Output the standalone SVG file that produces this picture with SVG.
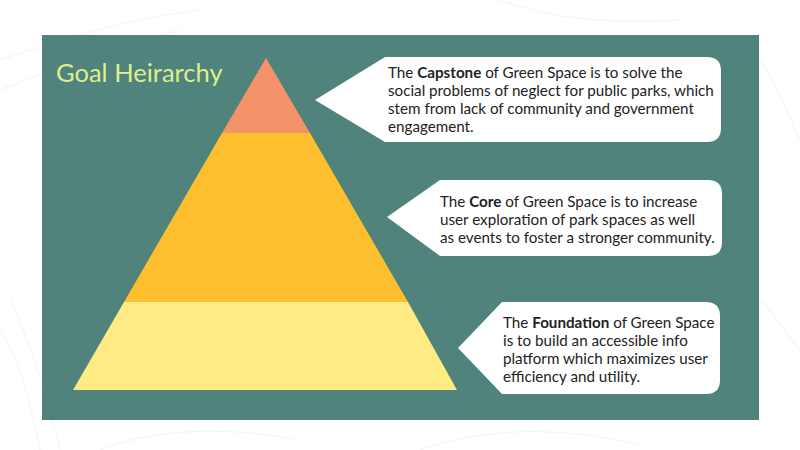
<svg xmlns="http://www.w3.org/2000/svg" width="800" height="450" viewBox="0 0 800 450">
  <style>
    .panel { fill: #4F837B; }
    .bubble { fill: #FFFFFF; }
    .body { font-family: Lato, "Open Sans", sans-serif; font-size: 15.2px; fill: #222222; }
    .body tspan.b { font-weight: bold; }
    .title { font-family: Lato, "Open Sans", sans-serif; font-size: 25.5px; fill: #DDF08C; }
    .swirl { fill: none; stroke: #F5F5F5; stroke-width: 1.2; }
  </style>

  <!-- page background with faint swirl lines -->
  <rect x="0" y="0" width="800" height="450" fill="#FFFFFF"/>
  <g class="swirl">
    <path d="M0,60 C60,40 120,20 200,10"/>
    <path d="M0,90 C50,70 100,50 180,30"/>
    <path d="M0,330 C20,360 30,400 40,450"/>
    <path d="M10,300 C30,340 45,390 60,450"/>
    <path d="M760,60 C780,90 790,120 800,140"/>
    <path d="M760,300 C780,320 790,340 800,350"/>
    <path d="M100,450 C150,430 220,425 300,440"/>
    <path d="M420,450 C480,428 560,425 640,445"/>
    <path d="M500,0 C540,15 600,25 680,20"/>
  </g>

  <!-- green slide panel -->
  <rect class="panel" x="42" y="35" width="717" height="385"/>

  <g id="title">
    <text class="title" x="56" y="82">Goal Heirarchy</text>
  </g>

  <!-- pyramid tiers -->
  <g id="tier-capstone">
    <polygon points="266,58 310,133 222,133" fill="#F4936A"/>
  </g>
  <g id="tier-core">
    <polygon points="222,133 310,133 408,302 124,302" fill="#FDBF2D"/>
  </g>
  <g id="tier-foundation">
    <polygon points="124,302 408,302 457,390 73,390" fill="#FEEB83"/>
  </g>

  <!-- callouts -->
  <g id="callout-capstone">
    <path class="bubble" d="M385,57 H707 Q721,57 721,71 V128 Q721,142 707,142 H385 L315,100 Z"/>
    <text class="body" x="388" y="78">The <tspan class="b">Capstone</tspan> of Green Space is to solve the</text>
    <text class="body" x="388" y="96">social problems of neglect for public parks, which</text>
    <text class="body" x="388" y="114">stem from lack of community and government</text>
    <text class="body" x="388" y="132">engagement.</text>
  </g>

  <g id="callout-core">
    <path class="bubble" d="M440,180 H708 Q722,180 722,194 V242 Q722,256 708,256 H440 L387,217 Z"/>
    <text class="body" x="440" y="207">The <tspan class="b">Core</tspan> of Green Space is to increase</text>
    <text class="body" x="440" y="225">user exploration of park spaces as well</text>
    <text class="body" x="440" y="243">as events to foster a stronger community.</text>
  </g>

  <g id="callout-foundation">
    <path class="bubble" d="M502,302 H706 Q720,302 720,316 V380 Q720,394 706,394 H502 L458,348 Z"/>
    <text class="body" x="503" y="328">The <tspan class="b">Foundation</tspan> of Green Space</text>
    <text class="body" x="503" y="346">is to build an accessible info</text>
    <text class="body" x="503" y="364">platform which maximizes user</text>
    <text class="body" x="503" y="382">efficiency and utility.</text>
  </g>
</svg>
